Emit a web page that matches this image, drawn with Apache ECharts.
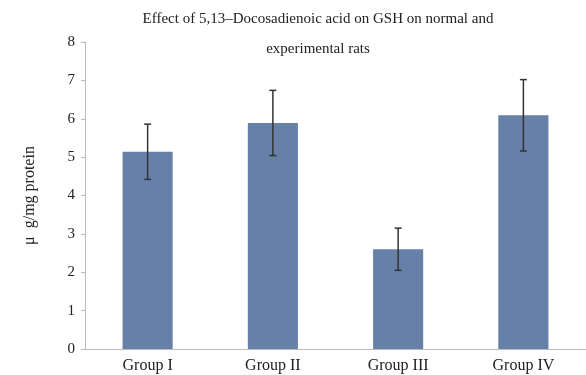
<!DOCTYPE html>
<html><head><meta charset="utf-8">
<script src="https://cdn.jsdelivr.net/npm/echarts@6/dist/echarts.min.js"></script>
<style>html,body{margin:0;padding:0;background:#fff}#c{width:586px;height:375px}</style>
</head><body><div id="c"></div>
<script>
var categories = ['Group I', 'Group II', 'Group III', 'Group IV'];
var means = [5.14, 5.89, 2.60, 6.09];
var errors = [0.72, 0.85, 0.55, 0.93];
var yTicks = [0, 1, 2, 3, 4, 5, 6, 7, 8];

var FONT = 'Liberation Serif';
var chart = echarts.init(document.getElementById('c'));
var errData = means.map(function (m, i) { return [i, m - errors[i], m + errors[i]]; });
chart.setOption({
  animation: false,
  textStyle: { fontFamily: FONT },
  title: {
    text: 'Effect of 5,13\u2013Docosadienoic acid on GSH on normal and\nexperimental rats',
    left: 313, textAlign: 'center', top: -1,
    textStyle: { fontFamily: FONT, fontSize: 15, fontWeight: 'normal', color: '#222', lineHeight: 30 }
  },
  grid: { left: 85, right: -3, top: 42, bottom: 26 },
  xAxis: {
    type: 'category', data: categories,
    axisLine: { lineStyle: { color: '#bbb' } },
    axisTick: { show: false },
    axisLabel: { color: '#222', fontSize: 16, fontFamily: FONT, margin: 9 }
  },
  yAxis: {
    type: 'value', min: yTicks[0], max: yTicks[yTicks.length - 1], interval: 1,
    name: '\u03bc  g/mg protein', nameLocation: 'middle', nameGap: 47,
    nameTextStyle: { fontFamily: FONT, fontSize: 16, color: '#222' },
    axisLine: { show: true, lineStyle: { color: '#bbb' } },
    axisTick: { show: true, length: 4, lineStyle: { color: '#bbb' } },
    splitLine: { show: false },
    axisLabel: { color: '#222', fontSize: 15, fontFamily: FONT, margin: 10 }
  },
  series: [
    {
      type: 'bar', data: means, barWidth: '40%',
      itemStyle: { color: '#6680a8' }
    },
    {
      type: 'custom', data: errData, z: 10,
      renderItem: function (params, api) {
        var x = api.value(0);
        var lo = api.coord([x, api.value(1)]);
        var hi = api.coord([x, api.value(2)]);
        var hw = 3.5;
        var st = { stroke: '#333', lineWidth: 1.5 };
        return {
          type: 'group', children: [
            { type: 'line', shape: { x1: hi[0], y1: hi[1], x2: lo[0], y2: lo[1] }, style: st },
            { type: 'line', shape: { x1: hi[0] - hw, y1: hi[1], x2: hi[0] + hw, y2: hi[1] }, style: st },
            { type: 'line', shape: { x1: lo[0] - hw, y1: lo[1], x2: lo[0] + hw, y2: lo[1] }, style: st }
          ]
        };
      }
    }
  ]
});
</script></body></html>
